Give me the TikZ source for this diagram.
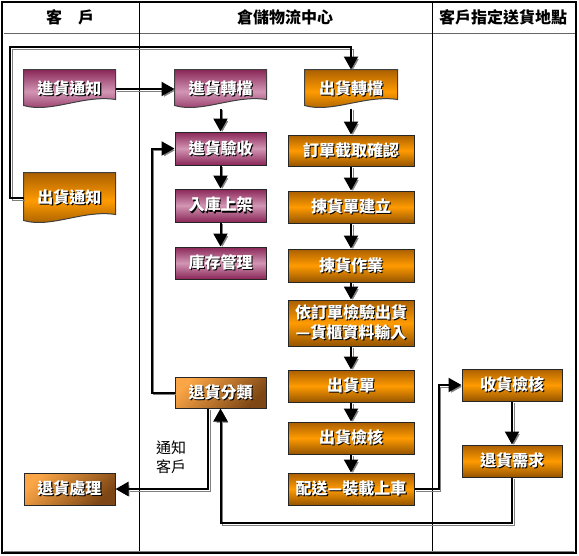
\documentclass[tikz,border=0pt]{standalone}
\usepackage{fontspec}
\newfontfamily\cjk{Noto Sans CJK TC}
\usetikzlibrary{arrows.meta,calc}
\pgfdeclarelayer{bg}
\pgfsetlayers{bg,main}
\definecolor{pdark}{RGB}{138,38,88}
\definecolor{plight}{RGB}{210,150,180}
\definecolor{odark}{RGB}{170,95,0}
\definecolor{omid}{RGB}{255,155,0}
\definecolor{obot}{RGB}{150,85,0}
\definecolor{rlight}{RGB}{250,165,70}
\definecolor{rdark}{RGB}{125,70,20}
\definecolor{shadowg}{RGB}{128,128,128}
\newcommand{\sh}[1]{\rlap{\kern1.2pt\raisebox{-1.2pt}{\textcolor{black}{#1}}}#1}
\newcommand{\docshape}[2]{%
  \path[#2] (#1.north west) -- (#1.north east) -- ($(#1.south east)+(0,-9)$)
    .. controls ($(#1.south west)!0.65!(#1.south east)+(0,-14)$) and ($(#1.south west)!0.3!(#1.south east)+(0,5)$)
    .. ($(#1.south west)+(0,-3)$) -- cycle;}
\tikzset{
  base/.style={rectangle, draw=black!85, line width=1pt, inner sep=0pt, text=white,
    font=\cjk\bfseries\fontsize{16}{20}\selectfont, align=center},
  orgbox/.style={base, top color=odark, bottom color=obot, middle color=omid},
  pinkbox/.style={base, top color=pdark, bottom color=pdark, middle color=plight},
  retbox/.style={base, left color=rlight, right color=rdark, shading angle=45},
  docnode/.style={base, draw=none, fill=none},
  orgfill/.style={draw=black!75, line width=1pt, top color=odark, bottom color=obot, middle color=omid},
  pinkfill/.style={draw=black!75, line width=1pt, top color=pdark, bottom color=pdark, middle color=plight},
  conn/.style={line width=2pt, -{Triangle[length=13pt,width=14pt]},
    preaction={draw=shadowg, transform canvas={shift={(1.8pt,-1.8pt)}}}},
  hdr/.style={font=\cjk\bfseries\fontsize{16}{20}\selectfont, text=black, inner sep=0pt},
  lbl/.style={font=\cjk\fontsize{15}{19}\selectfont, text=black, align=left, inner sep=0pt}
}
\begin{document}
\begin{tikzpicture}[x=1pt,y=-1pt]
\useasboundingbox (0,0) rectangle (579,555);
\begin{pgfonlayer}{bg}
\fill[white] (0,0) rectangle (579,555);
\end{pgfonlayer}
% frame
\draw[black!60, line width=1pt] (3.5,33) -- (575,33);
\draw[black, line width=1pt] (139,2) -- (139,553);
\draw[black, line width=1pt] (432,2) -- (432,553);
\draw[black, line width=1.5pt] (2,2) rectangle (576,553);
\draw[shadowg, line width=1pt] (4,551) -- (574,551);
% headers
\node[hdr] (h1) at (70,17) {客　戶};
\node[hdr] (h2) at (285,17) {倉儲物流中心};
\node[hdr] (h3) at (503,17) {客戶指定送貨地點};
% column 1
\node[docnode, minimum width=91pt, minimum height=38pt] (jhtz) at (69.5,89) {\sh{進貨通知}};
\node[docnode, minimum width=91pt, minimum height=50pt] (chtz) at (69.5,198) {\sh{出貨通知}};
\node[retbox, minimum width=91pt, minimum height=32pt] (thcl) at (69.5,489) {\sh{退貨處理}};
% column 2
\node[docnode, minimum width=91pt, minimum height=38pt] (jzd) at (220.5,89) {\sh{進貨轉檔}};
\node[pinkbox, minimum width=91pt, minimum height=33pt] (jhys) at (220.5,148.5) {\sh{進貨驗收}};
\node[pinkbox, minimum width=91pt, minimum height=33pt] (rksj) at (220.5,205.5) {\sh{入庫上架}};
\node[pinkbox, minimum width=91pt, minimum height=32pt] (kcgl) at (220.5,263) {\sh{庫存管理}};
\node[retbox, minimum width=91pt, minimum height=31pt] (thfl) at (220.5,392.5) {\sh{退貨分類}};
% column 3
\node[docnode, minimum width=92pt, minimum height=38pt] (chzd) at (351,89) {\sh{出貨轉檔}};
\node[orgbox, minimum width=126pt, minimum height=31pt] (ddjq) at (351,150.5) {\sh{訂單截取確認}};
\node[orgbox, minimum width=126pt, minimum height=32pt] (jhdjl) at (351,207) {\sh{揀貨單建立}};
\node[orgbox, minimum width=126pt, minimum height=33pt] (jhzy) at (351,265.5) {\sh{揀貨作業}};
\node[orgbox, minimum width=126pt, minimum height=46pt] (yddj) at (351,323) {\sh{依訂單檢驗出貨}\\\sh{—貨櫃資料輸入}};
\node[orgbox, minimum width=126pt, minimum height=32pt] (chd) at (351,386) {\sh{出貨單}};
\node[orgbox, minimum width=126pt, minimum height=32pt] (chjh) at (351,438) {\sh{出貨檢核}};
\node[orgbox, minimum width=126pt, minimum height=32pt] (ps) at (351,489) {\sh{配送—裝載上車}};
% column 4
\node[orgbox, minimum width=100pt, minimum height=32pt] (shjh) at (512,385) {\sh{收貨檢核}};
\node[orgbox, minimum width=100pt, minimum height=32pt] (thxq) at (512,461) {\sh{退貨需求}};
% document shapes
\begin{pgfonlayer}{bg}
\docshape{jhtz}{pinkfill}
\docshape{jzd}{pinkfill}
\docshape{chtz}{orgfill}
\docshape{chzd}{orgfill}
\end{pgfonlayer}
% label
\node[lbl] (tz) at (171,457) {通知\\客戶};
% connectors
\coordinate (k1) at (10,47);
\coordinate (k3) at (220.5,523);
\draw[conn] (jhtz.east) -- (jzd.west);
\draw[conn] (jzd.south) -- (jhys.north);
\draw[conn] (jhys.south) -- (rksj.north);
\draw[conn] (rksj.south) -- (kcgl.north);
\draw[conn] (chtz.west) -| (k1) -| (chzd.north);
\draw[conn] (chzd.south) -- (ddjq.north);
\draw[conn] (ddjq.south) -- (jhdjl.north);
\draw[conn] (jhdjl.south) -- (jhzy.north);
\draw[conn] (jhzy.south) -- (yddj.north);
\draw[conn] (yddj.south) -- (chd.north);
\draw[conn] (chd.south) -- (chjh.north);
\draw[conn] (chjh.south) -- (ps.north);
\draw[conn] (ps.east) -- ++(24,0) |- (shjh.west);
\draw[conn] (shjh.south) -- (thxq.north);
\draw[conn] (thxq.south) |- (k3) -- (thfl.south);
\draw[conn, line width=2.5pt] ([xshift=-12.5pt]thfl.south) |- (thcl.east);
\draw[conn] (thfl.west) -- ++(-23,0) |- (jhys.west);
\end{tikzpicture}
\end{document}
